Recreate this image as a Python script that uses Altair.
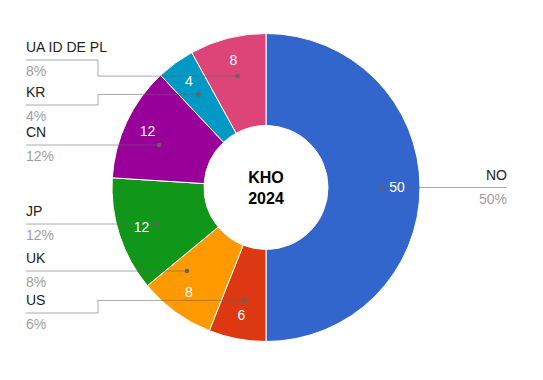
import math
import altair as alt
import pandas as pd

# ---- data ----
labels = ["NO", "US", "UK", "JP", "CN", "KR", "UA ID DE PL"]
values = [50, 6, 8, 12, 12, 4, 8]
colors = ["#3366cc", "#dc3912", "#ff9900", "#109618", "#990099", "#0099c6", "#dd4477"]
center_lines = ["KHO", "2024"]

# ---- layout (pixels inside the plot area) ----
W, H = 516, 359
CX, CY = W / 2, H / 2
R_OUT, R_IN, R_TXT, R_DOT = 154, 62, 131, 115
label_side = ["right", "left", "left", "left", "left", "left", "left"]
label_line_y = [179.5, 305, 263, 216, 137, 97, 52]   # y of the line under each label
LEFT_X0, ELBOW_X, RIGHT_X1 = 18, 90, 499

total = sum(values)
pct = [f"{round(v / total * 100)}%" for v in values]

df = pd.DataFrame({"label": labels, "value": values, "idx": range(len(labels)),
                   "pct": pct})

# leader lines computed from slice angles
line_rows, dot_rows, lab_rows = [], [], []
start = 0.0
for i, (lab, v) in enumerate(zip(labels, values)):
    a0 = start / total * 2 * math.pi
    a1 = (start + v) / total * 2 * math.pi
    start += v
    mid = (a0 + a1) / 2
    ly = label_line_y[i]
    # attach at the label's height if that point lies inside the slice
    c = (CY - ly) / R_DOT
    ang = mid
    if -1 <= c <= 1:
        cand = math.acos(c) if label_side[i] == "right" else 2 * math.pi - math.acos(c)
        if a0 <= cand <= a1:
            ang = cand
    dx = CX + R_DOT * math.sin(ang)
    dy = CY - R_DOT * math.cos(ang)
    dot_rows.append({"label": lab, "x": dx, "y": dy})
    if label_side[i] == "left":
        pts = [(LEFT_X0, ly), (ELBOW_X, ly), (ELBOW_X, dy), (dx, dy)]
        lab_rows.append({"label": lab, "pct": pct[i], "x": LEFT_X0, "y": ly, "side": "left"})
    else:
        pts = [(dx, dy), (RIGHT_X1, dy)]
        lab_rows.append({"label": lab, "pct": pct[i], "x": RIGHT_X1, "y": dy, "side": "right"})
    for k, (px, py) in enumerate(pts):
        line_rows.append({"label": lab, "k": k, "x": px, "y": py})

lines_df = pd.DataFrame(line_rows)
dots_df = pd.DataFrame(dot_rows)
labs_df = pd.DataFrame(lab_rows)
center_df = pd.DataFrame({"t": center_lines, "y": [CY - 10, CY + 11]})

xs = alt.Scale(domain=[0, W], range=[0, W], nice=False, zero=False)
ys = alt.Scale(domain=[0, H], range=[0, H], nice=False, zero=False)
FONT = "Arial, Liberation Sans, sans-serif"

base = alt.Chart(df).encode(
    theta=alt.Theta("value:Q", stack=True),
    order=alt.Order("idx:Q"),
)
arcs = base.mark_arc(outerRadius=R_OUT, innerRadius=R_IN, stroke="white", strokeWidth=1).encode(
    color=alt.Color("label:N", scale=alt.Scale(domain=labels, range=colors), legend=None)
)
vals = base.mark_text(radius=R_TXT, color="white", fontSize=14, font=FONT,
                      baseline="middle", align="center").encode(text="value:Q")

leaders = alt.Chart(lines_df).mark_line(color="#636363", opacity=0.55, strokeWidth=1).encode(
    x=alt.X("x:Q", scale=xs, axis=None),
    y=alt.Y("y:Q", scale=ys, axis=None),
    detail="label:N",
    order="k:Q",
)
dots = alt.Chart(dots_df).mark_circle(color="#636363", opacity=1, size=22).encode(
    x=alt.X("x:Q", scale=xs, axis=None),
    y=alt.Y("y:Q", scale=ys, axis=None),
)

def label_layers(side, align):
    d = alt.Chart(labs_df).transform_filter(alt.datum.side == side)
    names = d.mark_text(align=align, baseline="alphabetic", dy=-8, fontSize=14,
                        font=FONT, color="#222222").encode(
        x=alt.X("x:Q", scale=xs, axis=None), y=alt.Y("y:Q", scale=ys, axis=None),
        text="label:N")
    pcts = d.mark_text(align=align, baseline="alphabetic", dy=16, fontSize=14,
                       font=FONT, color="#9e9e9e").encode(
        x=alt.X("x:Q", scale=xs, axis=None), y=alt.Y("y:Q", scale=ys, axis=None),
        text="pct:N")
    return names + pcts

center = alt.Chart(center_df).mark_text(fontSize=16, fontWeight="bold", font=FONT,
                                        color="#000000", baseline="middle", align="center").encode(
    x=alt.value(CX),
    y=alt.Y("y:Q", scale=ys, axis=None),
    text="t:N",
)

chart = alt.layer(
    arcs, leaders, dots, vals, label_layers("left", "left"), label_layers("right", "right"), center
).properties(
    width=W, height=H, padding=0, autosize=alt.AutoSizeParams(type="none")
).configure_view(stroke=None)

chart.save("out.html", embed_options={"renderer": "svg", "actions": False})
